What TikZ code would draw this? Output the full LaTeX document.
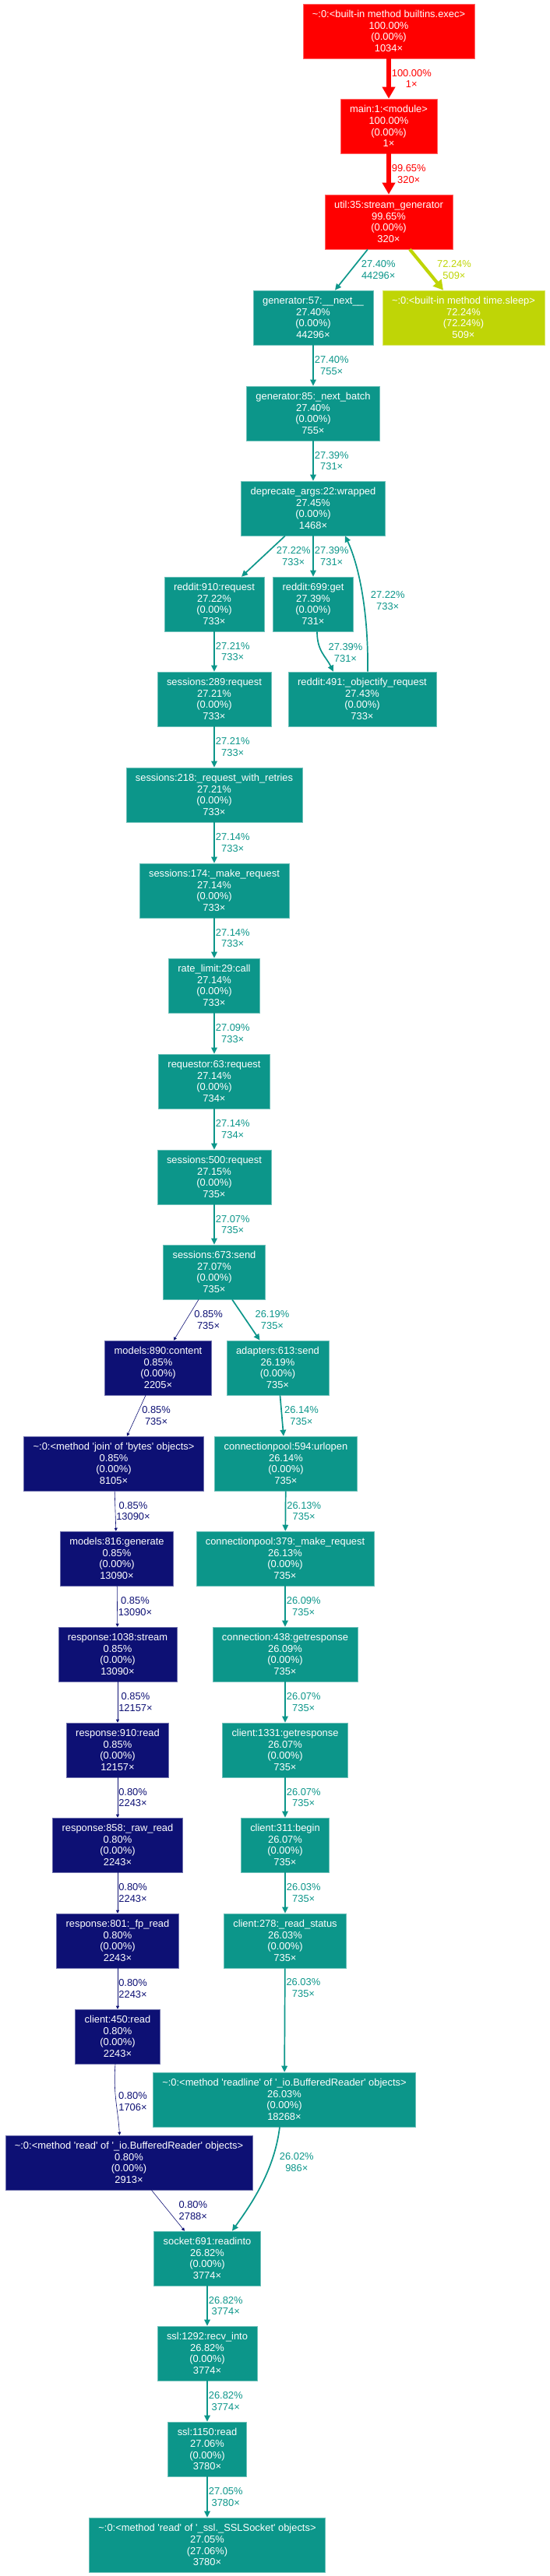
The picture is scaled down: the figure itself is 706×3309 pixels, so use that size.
\documentclass[tikz,border=0pt]{standalone}
\usepackage{fontspec}
\setmainfont{Liberation Sans}
\usetikzlibrary{arrows.meta}
\definecolor{cred}{HTML}{FF0000}
\definecolor{cyel}{HTML}{BFD506}
\definecolor{cteal}{HTML}{0C968A}
\definecolor{cnavy}{HTML}{0D1074}
\newcommand{\tilda}{\textasciitilde}
\newcommand{\squote}{\textquotesingle}
\tikzset{
	func/.style={rectangle, fill=#1, draw=#1!60!white, line width=0.6pt, text=white, align=center, inner xsep=12pt, inner ysep=0pt, minimum height=70pt},
	ered/.style={color=cred, line width=5.7pt, -{Triangle[length=15pt,width=16pt]}},
	eyel/.style={color=cyel, line width=4.2pt, -{Triangle[length=12.5pt,width=13.5pt]}},
	eteal/.style={color=cteal, line width=1.7pt, -{Triangle[length=8pt,width=7.5pt]}},
	enavy/.style={color=cnavy, line width=0.6pt, -{Triangle[length=4pt,width=4pt]}},
	lbl/.style={anchor=west, inner sep=0pt, align=center, xshift=1pt}
}
\begin{document}
\begin{tikzpicture}[x=1pt, y=-1pt, font=\fontsize{12.9}{14.7}\selectfont]
		%%%%% START %%%%%
		\useasboundingbox (0,0) rectangle (706,3309);
		
		\node[func=cred] (exec) at (499,40) {\tilda:0:<built-in method builtins.exec>\\100.00\%\\(0.00\%)\\1034×};
		\node[func=cred] (main) at (499,162) {main:1:<module>\\100.00\%\\(0.00\%)\\1×};
		\node[func=cred] (util) at (499,285) {util:35:stream\_generator\\99.65\%\\(0.00\%)\\320×};
		\node[func=cteal] (gen57) at (402,408) {generator:57:\_\_next\_\_\\27.40\%\\(0.00\%)\\44296×};
		\node[func=cyel] (sleep) at (595,408) {\tilda:0:<built-in method time.sleep>\\72.24\%\\(72.24\%)\\509×};
		\node[func=cteal] (gen85) at (402,531) {generator:85:\_next\_batch\\27.40\%\\(0.00\%)\\755×};
		\node[func=cteal] (wrapped) at (402,653) {deprecate\_args:22:wrapped\\27.45\%\\(0.00\%)\\1468×};
		\node[func=cteal] (req910) at (275,776) {reddit:910:request\\27.22\%\\(0.00\%)\\733×};
		\node[func=cteal] (get699) at (402,776) {reddit:699:get\\27.39\%\\(0.00\%)\\731×};
		\node[func=cteal] (sreq289) at (275,898) {sessions:289:request\\27.21\%\\(0.00\%)\\733×};
		\node[func=cteal] (objreq) at (465,898) {reddit:491:\_objectify\_request\\27.43\%\\(0.00\%)\\733×};
		\node[func=cteal] (retries) at (275,1021) {sessions:218:\_request\_with\_retries\\27.21\%\\(0.00\%)\\733×};
		\node[func=cteal] (makereq) at (275,1144) {sessions:174:\_make\_request\\27.14\%\\(0.00\%)\\733×};
		\node[func=cteal] (ratelim) at (275,1266) {rate\_limit:29:call\\27.14\%\\(0.00\%)\\733×};
		\node[func=cteal] (requestor) at (275,1389) {requestor:63:request\\27.14\%\\(0.00\%)\\734×};
		\node[func=cteal] (sreq500) at (275,1512) {sessions:500:request\\27.15\%\\(0.00\%)\\735×};
		\node[func=cteal] (send673) at (275,1634) {sessions:673:send\\27.07\%\\(0.00\%)\\735×};
		\node[func=cnavy] (content) at (203,1757) {models:890:content\\0.85\%\\(0.00\%)\\2205×};
		\node[func=cteal] (adapters) at (356.5,1757) {adapters:613:send\\26.19\%\\(0.00\%)\\735×};
		\node[func=cnavy] (join) at (146,1880) {\tilda:0:<method \squote{}join\squote{} of \squote{}bytes\squote{} objects>\\0.85\%\\(0.00\%)\\8105×};
		\node[func=cteal] (urlopen) at (367,1880) {connectionpool:594:urlopen\\26.14\%\\(0.00\%)\\735×};
		\node[func=cnavy] (generate) at (150,2002) {models:816:generate\\0.85\%\\(0.00\%)\\13090×};
		\node[func=cteal] (makereq379) at (366,2002) {connectionpool:379:\_make\_request\\26.13\%\\(0.00\%)\\735×};
		\node[func=cnavy] (stream) at (151,2125) {response:1038:stream\\0.85\%\\(0.00\%)\\13090×};
		\node[func=cteal] (getresp438) at (366,2125) {connection:438:getresponse\\26.09\%\\(0.00\%)\\735×};
		\node[func=cnavy] (read910) at (151,2248) {response:910:read\\0.85\%\\(0.00\%)\\12157×};
		\node[func=cteal] (getresp1331) at (366,2248) {client:1331:getresponse\\26.07\%\\(0.00\%)\\735×};
		\node[func=cnavy] (rawread) at (151,2370) {response:858:\_raw\_read\\0.80\%\\(0.00\%)\\2243×};
		\node[func=cteal] (begin) at (366,2370) {client:311:begin\\26.07\%\\(0.00\%)\\735×};
		\node[func=cnavy] (fpread) at (151,2493) {response:801:\_fp\_read\\0.80\%\\(0.00\%)\\2243×};
		\node[func=cteal] (status) at (366,2493) {client:278:\_read\_status\\26.03\%\\(0.00\%)\\735×};
		\node[func=cnavy] (read450) at (151,2616) {client:450:read\\0.80\%\\(0.00\%)\\2243×};
		\node[func=cteal] (readline) at (365,2697) {\tilda:0:<method \squote{}readline\squote{} of \squote{}\_io.BufferedReader\squote{} objects>\\26.03\%\\(0.00\%)\\18268×};
		\node[func=cnavy] (bufread) at (165.5,2778) {\tilda:0:<method \squote{}read\squote{} of \squote{}\_io.BufferedReader\squote{} objects>\\0.80\%\\(0.00\%)\\2913×};
		\node[func=cteal] (readinto) at (266,2901) {socket:691:readinto\\26.82\%\\(0.00\%)\\3774×};
		\node[func=cteal] (recvinto) at (266,3023) {ssl:1292:recv\_into\\26.82\%\\(0.00\%)\\3774×};
		\node[func=cteal] (sslread) at (266,3146) {ssl:1150:read\\27.06\%\\(0.00\%)\\3780×};
		\node[func=cteal] (sslsock) at (266,3269) {\tilda:0:<method \squote{}read\squote{} of \squote{}\_ssl.\_SSLSocket\squote{} objects>\\27.05\%\\(27.06\%)\\3780×};
		
		\draw[ered] (exec) -- node[lbl] {100.00\%\\1×} (main);
		\draw[ered] (main) -- node[lbl] {99.65\%\\320×} (util);
		\draw[eteal] ([xshift=-27pt]util.south) -- node[lbl, xshift=11pt] {27.40\%\\44296×} ([xshift=28pt]gen57.north);
		\draw[eyel] ([xshift=27pt]util.south) -- node[lbl, xshift=10.5pt] {72.24\%\\509×} ([xshift=-26pt]sleep.north);
		\draw[eteal] (gen57) -- node[lbl] {27.40\%\\755×} (gen85);
		\draw[eteal] (gen85) -- node[lbl] {27.39\%\\731×} (wrapped);
		\draw[eteal] ([xshift=-36pt]wrapped.south) -- node[lbl, xshift=15pt] {27.22\%\\733×} ([xshift=35pt]req910.north);
		\draw[eteal] (wrapped) -- node[lbl] {27.39\%\\731×} (get699);
		\draw[eteal] ([xshift=5pt]get699.south) .. controls +(0,25) and +(-10,-20) .. ([xshift=-37pt]objreq.north) node[lbl, pos=0.5, xshift=6pt] {27.39\%\\731×};
		\draw[eteal] ([xshift=7pt]objreq.north) .. controls +(1,-73) and +(19,41) .. ([xshift=41pt]wrapped.south) node[lbl, pos=0.5, xshift=9pt, yshift=-8pt] {27.22\%\\733×};
		
		\draw[eteal] (req910) -- node[lbl] {27.21\%\\733×} (sreq289);
		\draw[eteal] (sreq289) -- node[lbl] {27.21\%\\733×} (retries);
		\draw[eteal] (retries) -- node[lbl] {27.14\%\\733×} (makereq);
		\draw[eteal] (makereq) -- node[lbl] {27.14\%\\733×} (ratelim);
		\draw[eteal] (ratelim) -- node[lbl] {27.09\%\\733×} (requestor);
		\draw[eteal] (requestor) -- node[lbl] {27.14\%\\734×} (sreq500);
		\draw[eteal] (sreq500) -- node[lbl] {27.07\%\\735×} (send673);
		\draw[enavy] ([xshift=-20pt]send673.south) -- node[lbl, xshift=9pt] {0.85\%\\735×} ([xshift=20pt]content.north);
		\draw[eteal] ([xshift=23pt]send673.south) -- node[lbl, xshift=10pt] {26.19\%\\735×} ([xshift=-23pt]adapters.north);
		
		\draw[enavy] ([xshift=-16pt]content.south) -- node[lbl, xshift=6pt] {0.85\%\\735×} ([xshift=17pt]join.north);
		\draw[eteal] (adapters) -- node[lbl, xshift=1.5pt] {26.14\%\\735×} (urlopen);
		\draw[enavy] (join) -- node[lbl] {0.85\%\\13090×} (generate);
		\draw[eteal] (urlopen) -- node[lbl] {26.13\%\\735×} (makereq379);
		\draw[enavy] (generate) -- node[lbl] {0.85\%\\13090×} (stream);
		\draw[eteal] (makereq379) -- node[lbl] {26.09\%\\735×} (getresp438);
		\draw[enavy] (stream) -- node[lbl] {0.85\%\\12157×} (read910);
		\draw[eteal] (getresp438) -- node[lbl] {26.07\%\\735×} (getresp1331);
		\draw[enavy] (read910) -- node[lbl] {0.80\%\\2243×} (rawread);
		\draw[eteal] (getresp1331) -- node[lbl] {26.07\%\\735×} (begin);
		\draw[enavy] (rawread) -- node[lbl] {0.80\%\\2243×} (fpread);
		\draw[eteal] (begin) -- node[lbl] {26.03\%\\735×} (status);
		\draw[enavy] (fpread) -- node[lbl] {0.80\%\\2243×} (read450);
		\draw[eteal] (status) -- node[lbl, pos=0.19] {26.03\%\\735×} (readline);
		
		\draw[enavy] ([xshift=-3pt]read450.south) .. controls +(-3,39) and +(-2,-33) .. ([xshift=-12pt]bufread.north) node[lbl, pos=0.5, xshift=2pt] {0.80\%\\1706×};
		\draw[eteal] ([xshift=-6pt]readline.south) .. controls +(-7,58) and +(22,-31) .. ([xshift=32pt]readinto.north) node[lbl, pos=0.25, xshift=7.5pt, yshift=-4pt] {26.02\%\\986×};
		\draw[enavy] ([xshift=29pt]bufread.south) -- node[lbl, xshift=12.5pt] {0.80\%\\2788×} ([xshift=-29pt]readinto.north);
		\draw[eteal] (readinto) -- node[lbl] {26.82\%\\3774×} (recvinto);
		\draw[eteal] (recvinto) -- node[lbl] {26.82\%\\3774×} (sslread);
		\draw[eteal] (sslread) -- node[lbl] {27.05\%\\3780×} (sslsock);
		
		%%%%% END %%%%%
\end{tikzpicture}
\end{document}
